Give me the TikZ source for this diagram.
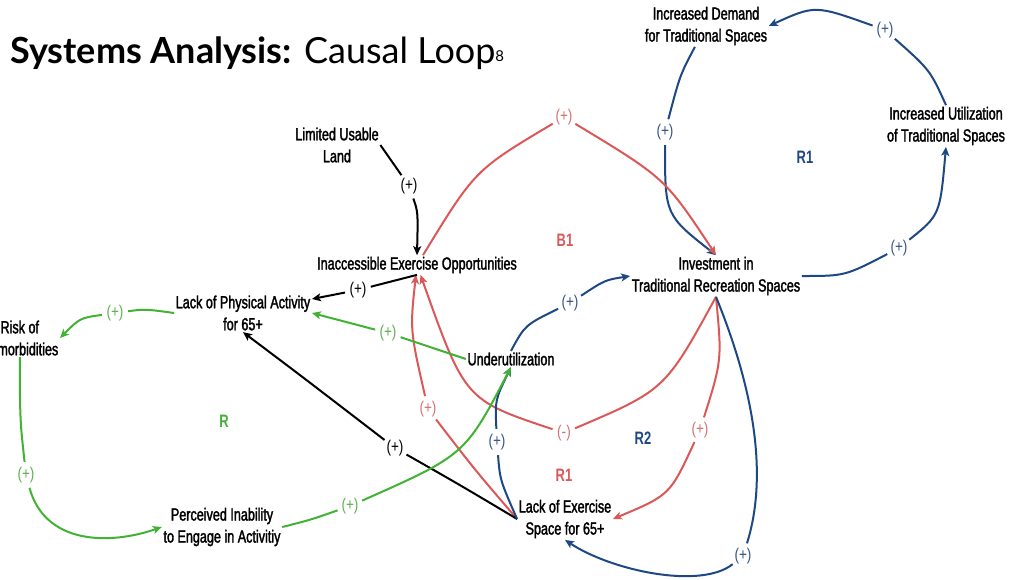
\documentclass[tikz,border=0pt]{standalone}
\usepackage{fontspec}
\setmainfont{Liberation Sans}
\newfontfamily\condfont[FakeStretch=0.72,UprightFeatures={FakeBold=1.8}]{Liberation Sans}
\newfontfamily\signfont[FakeStretch=0.8]{Liberation Sans}
\newfontfamily\titlefont{Lato}
\usetikzlibrary{arrows.meta}

\definecolor{loopred}{RGB}{218,88,88}
\definecolor{loopblue}{RGB}{30,72,132}
\definecolor{loopgreen}{RGB}{66,178,52}
\definecolor{signred}{RGB}{214,112,112}
\definecolor{signblue}{RGB}{52,84,130}
\definecolor{signgreen}{RGB}{92,176,80}

\pgfdeclarelayer{links}
\pgfsetlayers{links,main}

\begin{document}
\begin{tikzpicture}[x=1pt,y=-1pt,
  var/.style={font=\condfont\fontsize{17.5}{22}\selectfont, align=center, inner sep=1.5pt},
  sign/.style={font=\signfont\fontsize{17}{17}\selectfont, circle, inner sep=1pt},
  looplbl/.style={font=\condfont\bfseries\fontsize{18}{18}\selectfont},
  link/.style={line width=2pt, -{Stealth[length=9pt,width=8pt,inset=2.2pt]}},
  plain/.style={line width=2pt}
]
\useasboundingbox (0,0) rectangle (1010,579);
\clip (0,0) rectangle (1010,579);

% title
\node[anchor=base west, inner sep=0pt, font=\titlefont\fontsize{36}{40}\selectfont] (title) at (10,63)
  {{\bfseries Systems Analysis:} Causal Loop{\fontsize{15}{15}\selectfont\raisebox{2pt}{8}}};

% variables
\node[var] (ID)  at (706,26)  {Increased Demand\\for Traditional Spaces};
\node[var] (IU)  at (946,126) {Increased Utilization\\of Traditional Spaces};
\node[var] (LUL) at (337,145) {Limited Usable\\Land};
\node[var] (IEO) at (417,265) {Inaccessible Exercise Opportunities};
\node[var] (Inv) at (716,276) {Investment in\\Traditional Recreation Spaces};
\node[var] (LPA) at (243,313) {Lack of Physical Activity\\for 65+};
\node[var, anchor=east] (ROC) at (60,338) {Risk of\\Comorbidities};
\node[var] (Und) at (511,359) {Underutilization};
\node[var] (PIA) at (222,527) {Perceived Inability\\to Engage in Activitiy};
\node[var] (LES) at (565,519) {Lack of Exercise\\Space for 65+};

% polarity signs
\node[sign, text=signblue]  (s1)  at (665,132) {(+)};
\node[sign, text=signblue]  (s2)  at (899,248) {(+)};
\node[sign, text=signblue]  (s3)  at (885,30)  {(+)};
\node[sign, text=signred]   (s4)  at (564,117) {(+)};
\node[sign, text=signred]   (s5)  at (564,433) {(-)};
\node[sign, text=signred]   (s6)  at (428,409) {(+)};
\node[sign, text=signred]   (s7)  at (700,430) {(+)};
\node[sign, text=black]     (s8)  at (409,186) {(+)};
\node[sign, text=black]     (s9)  at (358,290) {(+)};
\node[sign, text=black]     (s10) at (395,448) {(+)};
\node[sign, text=signgreen] (s11) at (115,313) {(+)};
\node[sign, text=signgreen] (s12) at (26,475)  {(+)};
\node[sign, text=signgreen] (s13) at (350,506) {(+)};
\node[sign, text=signgreen] (s14) at (388,333) {(+)};
\node[sign, text=signblue]  (s15) at (497,442) {(+)};
\node[sign, text=signblue]  (s16) at (570,303) {(+)};
\node[sign, text=signblue]  (s17) at (743,556) {(+)};

% loop names
\node[looplbl, text=loopblue]  (lR1b) at (805,157) {R1};
\node[looplbl, text=loopred]   (lB1)  at (565,240) {B1};
\node[looplbl, text=loopgreen] (lR)   at (224,421) {R};
\node[looplbl, text=loopblue]  (lR2)  at (643,438) {R2};
\node[looplbl, text=loopred]   (lR1r) at (564,475) {R1};

\begin{pgfonlayer}{links}
% blue loop R1 (top right)
\draw[link, loopblue] (ID) .. controls (680,75) .. (s1) .. controls (665,215) .. (Inv.north);
\draw[link, loopblue] (Inv.east) .. controls (845,276) .. (s2) .. controls (940,215) .. (IU.south);
\draw[link, loopblue] (IU.north) .. controls (930,70) .. (s3) .. controls (815,5) .. (ID.east);

% red links
\draw[link, loopred] (IEO) .. controls (475,170) .. (s4) .. controls (665,178) .. (Inv.north);
\draw[link, loopred] (Inv.south) .. controls (665,390) .. (s5) .. controls (465,400) .. (IEO);
\draw[link, loopred] (LES.west) .. controls (475,470) .. (s6) .. controls (410,330) .. (IEO);
\draw[link, loopred] (Inv.south) .. controls (722,360) .. (s7) .. controls (670,495) .. (LES.east);

% black links
\draw[link, black] (LUL.east) -- (s8) .. controls (418,212) .. (IEO.north);
\draw[link, black] (IEO.south) -- (s9) -- ([yshift=14pt]LPA.east);
\draw[link, black] (LES.west) .. controls (460,485) .. (s10) .. controls (300,375) .. (LPA.south);

% blue loop R2
\draw[link, loopblue] (LES.west) .. controls (500,480) .. (s15) .. controls (495,400) .. (Und.south);
\draw[link, loopblue] (Und.north) .. controls (525,325) .. (s16) .. controls (605,280) .. (Inv.west);
\draw[link, loopblue] (Inv.south) .. controls (750,380) and (770,470) .. (s17)
   .. controls (700,590) and (610,570) .. (LES.south);

% green loop R
\draw[link, loopgreen] (LPA.west) .. controls (145,309) .. (s11) .. controls (80,318) .. (ROC.east);
\draw[link, loopgreen] (ROC.south) .. controls (20,420) .. (s12) .. controls (45,545) and (110,545) .. (PIA.west);
\draw[link, loopgreen] (PIA.east) .. controls (310,520) .. (s13) .. controls (465,455) .. (Und.south);
\draw[link, loopgreen] (Und.west) -- (s14) -- (LPA.east);
\end{pgfonlayer}
\end{tikzpicture}
\end{document}
